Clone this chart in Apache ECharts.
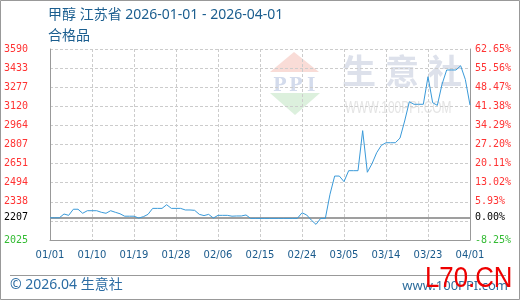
<!DOCTYPE html>
<html>
<head>
<meta charset="utf-8">
<script src="https://cdn.jsdelivr.net/npm/echarts@6/dist/echarts.min.js"></script>
<style>
html,body{margin:0;padding:0;background:#fff;}
#chart{width:520px;height:300px;}
</style>
</head>
<body>
<div id="chart"></div>
<script>
var dates = [
'01/01','01/02','01/03','01/04','01/05','01/06','01/07','01/08','01/09','01/10',
'01/11','01/12','01/13','01/14','01/15','01/16','01/17','01/18','01/19','01/20',
'01/21','01/22','01/23','01/24','01/25','01/26','01/27','01/28','01/29','01/30','01/31',
'02/01','02/02','02/03','02/04','02/05','02/06','02/07','02/08','02/09','02/10',
'02/11','02/12','02/13','02/14','02/15','02/16','02/17','02/18','02/19','02/20',
'02/21','02/22','02/23','02/24','02/25','02/26','02/27','02/28',
'03/01','03/02','03/03','03/04','03/05','03/06','03/07','03/08','03/09','03/10',
'03/11','03/12','03/13','03/14','03/15','03/16','03/17','03/18','03/19','03/20',
'03/21','03/22','03/23','03/24','03/25','03/26','03/27','03/28','03/29','03/30','03/31',
'04/01'
];
var prices = [
2207,2207,2207,2238,2227,2277,2277,2244,2265,2265,
2265,2252,2244,2265,2252,2240,2220,2220,2220,2205,
2216,2235,2284,2284,2284,2314,2284,2284,2284,2271,2271,
2268,2235,2225,2235,2205,2227,2227,2227,2220,2222,
2222,2230,2202,2202,2202,2202,2202,2202,2202,2202,
2202,2202,2202,2248,2230,2188,2153,2202,
2202,2400,2549,2549,2503,2593,2593,2593,2921,2580,
2650,2740,2800,2822,2822,2822,2860,3000,3158,3137,
3137,3137,3363,3150,3128,3300,3418,3418,3418,3453,3340,
3131
];
var baseValue = 2207;
var leftTicks = ['2025','','2338','2494','2651','2807','2964','3120','3277','3433','3590'];
var rightTicks = ['-8.25%','','5.93%','13.02%','20.11%','27.20%','34.29%','41.38%','48.47%','55.56%','62.65%'];
var yMin = 2025, yMax = 3590, yStep = 156.5;

function tickIndex(v){ return Math.round((Number(v) - yMin) / yStep); }
function tickColor(v){
  var n = Number(v);
  if (n > baseValue + 1) return '#ff3333';
  if (n < baseValue - 1) return '#33bb33';
  return '#000';
}

var chart = echarts.init(document.getElementById('chart'), null, {renderer:'canvas'});
var gridLine = {color:'#cccccc', type:[3,2], width:1};
var option = {
  animation:false,
  backgroundColor:'#fff',
  title:{
    text:'甲醇 江苏省 2026-01-01 - 2026-04-01',
    subtext:'合格品',
    left:48, top:6, itemGap:2, padding:0,
    textStyle:{fontFamily:'Noto Sans, Noto Sans CJK SC', fontSize:14, fontWeight:'normal', color:'#1b5e8f', lineHeight:18},
    subtextStyle:{fontFamily:'Noto Sans CJK SC', fontSize:14, color:'#1b5e8f', lineHeight:18}
  },
  grid:{left:50, right:50, top:49, bottom:60, containLabel:false},
  xAxis:{
    type:'category', data:dates, boundaryGap:false,
    axisLine:{show:true, lineStyle:{color:'#999'}},
    axisTick:{show:false, interval:8},
    axisLabel:{interval:8, color:'#1a5a8c', fontFamily:'DejaVu Sans', fontSize:10, margin:10},
    splitLine:{show:true, interval:8, lineStyle:gridLine}
  },
  yAxis:[{
    type:'value', position:'left', min:yMin, max:yMax, interval:yStep,
    axisLine:{show:true, lineStyle:{color:'#999'}},
    axisTick:{show:false},
    splitLine:{show:true, lineStyle:gridLine},
    axisLabel:{align:'left', margin:46, fontFamily:'DejaVu Sans Mono', fontSize:10,
      formatter:function(v){ return leftTicks[tickIndex(v)] || ''; },
      color:function(v){ return tickColor(v); }}
  },{
    type:'value', position:'right', min:yMin, max:yMax, interval:yStep,
    axisLine:{show:true, lineStyle:{color:'#999'}},
    axisTick:{show:false},
    splitLine:{show:false},
    axisLabel:{align:'left', margin:5, fontFamily:'DejaVu Sans Mono', fontSize:10,
      formatter:function(v){ return rightTicks[tickIndex(v)] || ''; },
      color:function(v){ return tickColor(v); }}
  }],
  series:[{
    type:'line', data:prices, yAxisIndex:0, showSymbol:false, symbol:'none',
    lineStyle:{color:'#3a9ad9', width:1},
    itemStyle:{color:'#3a9ad9'},
    z:5,
    markLine:{
      silent:true, symbol:'none', animation:false,
      lineStyle:{color:'#999', type:'solid', width:1.5},
      data:[
        {yAxis:baseValue, label:{show:true, position:'start', distance:22, formatter:String(baseValue), color:'#000', fontFamily:'DejaVu Sans Mono', fontSize:10}},
        {yAxis:baseValue, label:{show:true, position:'end', distance:5, formatter:'0.00%', color:'#000', fontFamily:'DejaVu Sans Mono', fontSize:10}}
      ]
    }
  }],
  graphic:[
    {type:'rect', z:-20, silent:true, shape:{x:0.5,y:0.5,width:519,height:299}, style:{fill:'none', stroke:'#999', lineWidth:1}},
    {type:'line', z:-20, silent:true, shape:{x1:10,y1:275.5,x2:506,y2:275.5}, style:{stroke:'#999', lineWidth:1}},
    {type:'polygon', z:-20, silent:true, shape:{points:[[270,72],[294,52],[319,72]]}, style:{fill:'#f9dcd7'}},
    {type:'polygon', z:-20, silent:true, shape:{points:[[270,93],[320,93],[295,115]]}, style:{fill:'#dcf0dd'}},
    {type:'text', z:-20, silent:true, style:{text:'P', x:273, y:86, font:'bold 18px DejaVu Serif', fill:'#d3dbec', textVerticalAlign:'middle', verticalAlign:'middle'}},
    {type:'text', z:-20, silent:true, style:{text:'P', x:289, y:86, font:'bold 18px DejaVu Serif', fill:'#d3dbec', textVerticalAlign:'middle', verticalAlign:'middle'}},
    {type:'text', z:-20, silent:true, style:{text:'I', x:307, y:86, font:'bold 18px DejaVu Serif', fill:'#d3dbec', textVerticalAlign:'middle', verticalAlign:'middle'}},
    {type:'text', z:-20, silent:true, style:{text:'生', x:342, y:71, font:'bold 34px "Noto Sans CJK SC"', fill:'#dde1eb', textVerticalAlign:'middle', verticalAlign:'middle'}},
    {type:'text', z:-20, silent:true, style:{text:'意', x:385, y:71, font:'bold 34px "Noto Sans CJK SC"', fill:'#dde1eb', textVerticalAlign:'middle', verticalAlign:'middle'}},
    {type:'text', z:-20, silent:true, style:{text:'社', x:428, y:71, font:'bold 34px "Noto Sans CJK SC"', fill:'#dde1eb', textVerticalAlign:'middle', verticalAlign:'middle'}},
    {type:'text', z:-20, silent:true, x:345, y:108, scaleX:0.7, style:{text:'WWW.100PPI.COM', x:0, y:0, font:'17px "Liberation Sans"', fill:'#e4e4e4', textVerticalAlign:'middle', verticalAlign:'middle'}},
    {type:'text', z:-20, silent:true, style:{text:'© 2026.04 生意社', x:10, y:285, font:'14px "Noto Sans", "Noto Sans CJK SC"', fill:'#2b6ca3', textVerticalAlign:'middle', verticalAlign:'middle'}},
    {type:'text', z:-20, silent:true, style:{text:'www.100PPI.com', x:508, y:286, font:'13px "Noto Sans"', fill:'#2e6d9c', textAlign:'right', align:'right', textVerticalAlign:'middle', verticalAlign:'middle'}},
    {type:'text', z:50, silent:true, x:425, y:279, scaleX:0.86, style:{text:'L70.CN', x:0, y:0, font:'30px "Liberation Sans"', fill:'#ee0000', textVerticalAlign:'middle', verticalAlign:'middle'}}
  ]
};
chart.setOption(option);
</script>
</body>
</html>
